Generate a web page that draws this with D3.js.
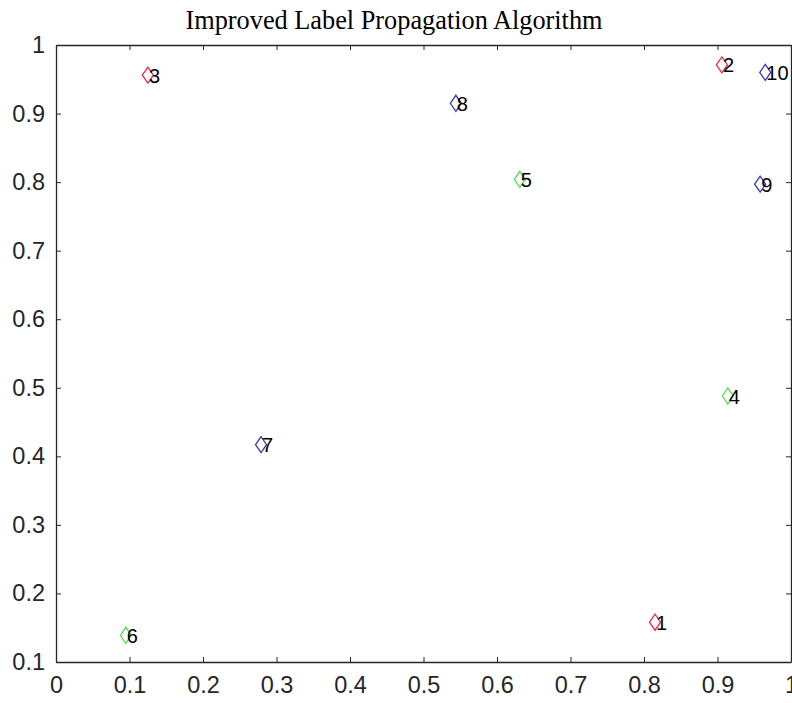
<!DOCTYPE html>
<html>
<head>
<meta charset="utf-8">
<script src="https://cdn.jsdelivr.net/npm/d3@7"></script>
<style>
  body { margin: 0; background: #fff; overflow: hidden; }
</style>
</head>
<body>
<div id="chart"></div>
<script>
// node positions and their community
const nodeIds = [1, 2, 3, 4, 5, 6, 7, 8, 9, 10];
const xValues = [0.815, 0.906, 0.125, 0.914, 0.631, 0.095, 0.279, 0.544, 0.958, 0.965];
const yValues = [0.158, 0.971, 0.956, 0.488, 0.804, 0.139, 0.417, 0.915, 0.797, 0.960];
const groups  = ["r", "r", "r", "g", "g", "g", "b", "b", "b", "b"];
const xTicks = [0, 0.1, 0.2, 0.3, 0.4, 0.5, 0.6, 0.7, 0.8, 0.9, 1];
const yTicks = [0.1, 0.2, 0.3, 0.4, 0.5, 0.6, 0.7, 0.8, 0.9, 1];
const title = "Improved Label Propagation Algorithm";

const w = 792, h = 703;
const margin = { top: 45, right: 1, bottom: 41, left: 56 };
const groupColors = { r: "#e0304e", g: "#55dd55", b: "#3a3aa8" };

const svg = d3.select("#chart").append("svg")
    .attr("width", w)
    .attr("height", h);

const x = d3.scaleLinear().domain([0, 1]).range([margin.left, w - margin.right]);
const y = d3.scaleLinear().domain([0.1, 1]).range([h - margin.bottom, margin.top]);

const axisColor = "#262626";

// bottom and left axes (ticks point inward)
const xAxis = svg.append("g")
    .attr("transform", `translate(0,${h - margin.bottom})`)
    .call(d3.axisBottom(x).tickValues(xTicks).tickFormat(d3.format("")).tickSizeInner(-5).tickSizeOuter(0).tickPadding(12));
const yAxis = svg.append("g")
    .attr("transform", `translate(${margin.left},0)`)
    .call(d3.axisLeft(y).tickValues(yTicks).tickFormat(d3.format("")).tickSizeInner(-5).tickSizeOuter(0).tickPadding(11));
// top and right mirror ticks
const xTop = svg.append("g")
    .attr("transform", `translate(0,${margin.top})`)
    .call(d3.axisTop(x).tickValues(xTicks).tickFormat("").tickSizeInner(-5).tickSizeOuter(0));
const yRight = svg.append("g")
    .attr("transform", `translate(${w - margin.right},0)`)
    .call(d3.axisRight(y).tickValues(yTicks).tickFormat("").tickSizeInner(-5).tickSizeOuter(0));

[xAxis, yAxis, xTop, yRight].forEach(g => {
    g.select(".domain").attr("stroke", axisColor).attr("stroke-width", 1.3);
    g.selectAll(".tick line").attr("stroke", axisColor);
    g.selectAll("text")
        .attr("fill", axisColor)
        .style("font-family", "'Liberation Sans', Arial, sans-serif")
        .style("font-size", "23.5px");
});
xAxis.selectAll("text").attr("dy", "0.8em");

// title
svg.append("text")
    .attr("x", 394)
    .attr("y", 29)
    .attr("text-anchor", "middle")
    .style("font-family", "'Liberation Serif', 'Times New Roman', serif")
    .style("font-size", "26.3px")
    .attr("fill", "#000")
    .text(title);

const nodes = nodeIds.map((id, i) => ({ id: id, x: xValues[i], y: yValues[i], g: groups[i] }));

// diamond markers
svg.selectAll(".node")
    .data(nodes)
    .enter()
    .append("path")
    .attr("class", "node")
    .attr("d", d => {
        const cx = x(d.x), cy = y(d.y);
        return `M${cx - 5.5},${cy} L${cx},${cy - 8} L${cx + 5.5},${cy} L${cx},${cy + 8} Z`;
    })
    .attr("fill", "none")
    .attr("stroke", d => groupColors[d.g])
    .attr("stroke-width", 1.3);

// node labels
svg.selectAll(".lbl")
    .data(nodes)
    .enter()
    .append("text")
    .attr("class", "lbl")
    .attr("x", d => x(d.x) + 1)
    .attr("y", d => y(d.y))
    .attr("dy", "0.38em")
    .style("font-family", "'Liberation Sans', Arial, sans-serif")
    .style("font-size", "20px")
    .attr("fill", "#000")
    .text(d => d.id);
</script>
</body>
</html>
